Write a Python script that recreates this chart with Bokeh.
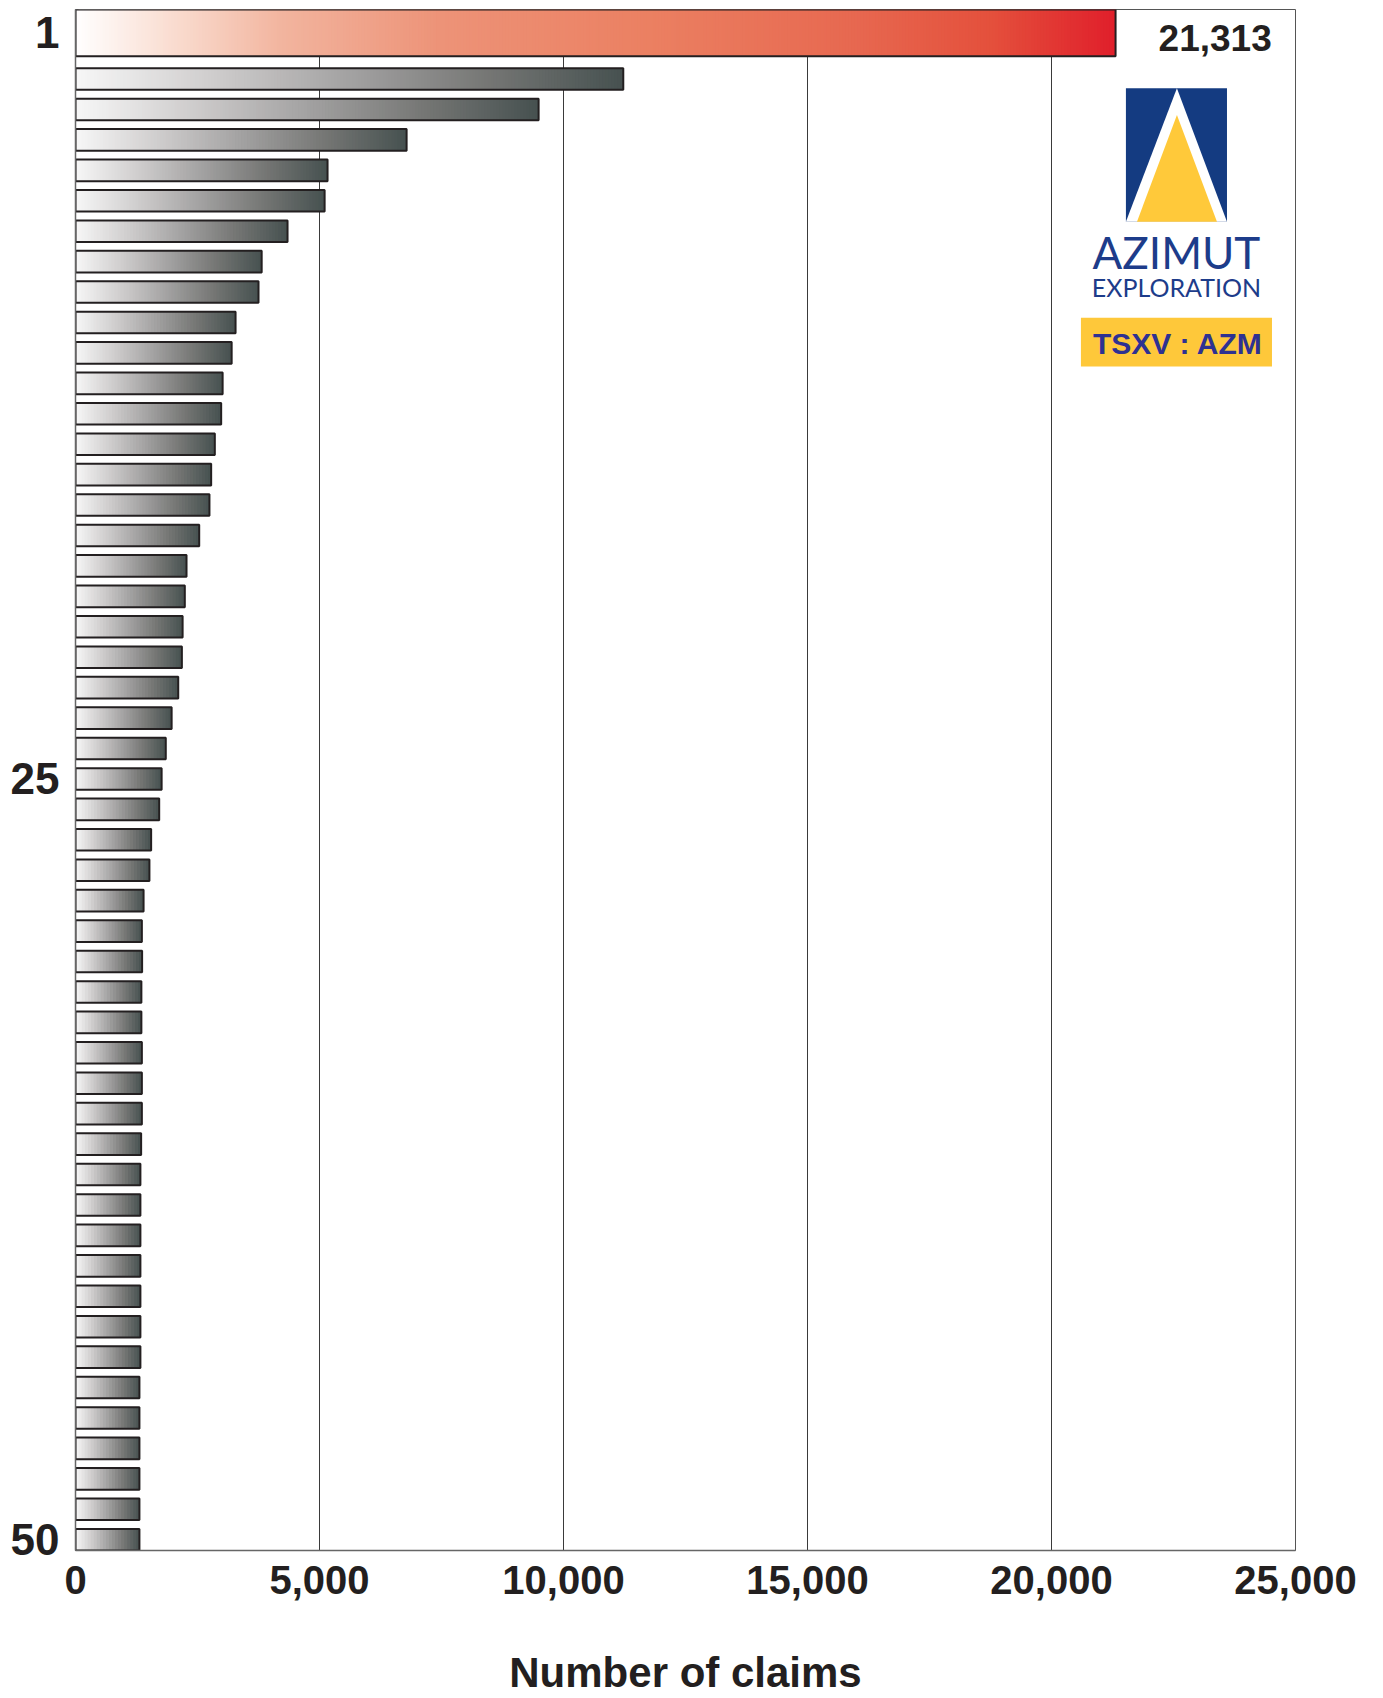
import numpy as np
from bokeh.plotting import figure
from bokeh.models import Range1d, FixedTicker
from bokeh.core.properties import value
from bokeh.embed import file_html
from bokeh.resources import INLINE

# ---------------- data ----------------
ranks = list(range(1, 51))
claims = [21313, 11225, 9490, 6785, 5165, 5105, 4345, 3815, 3750, 3280,
          3200, 3015, 2985, 2855, 2780, 2745, 2535, 2275, 2240, 2195,
          2180, 2105, 1970, 1850, 1765, 1715, 1550, 1515, 1395, 1360,
          1365, 1350, 1350, 1360, 1360, 1360, 1345, 1330, 1330, 1330,
          1330, 1330, 1330, 1330, 1310, 1310, 1310, 1310, 1310, 1310]
x_ticks = [0, 5000, 10000, 15000, 20000, 25000]
x_tick_labels = ["0", "5,000", "10,000", "15,000", "20,000", "25,000"]
y_tick_ranks = [1, 25, 50]
y_tick_labels = ["1", "25", "50"]
x_title = "Number of claims"
logo_name = "AZIMUT"
logo_sub = "EXPLORATION"
ticker_text = "TSXV : AZM"

# ---------------- style ----------------
BAR_H = 0.71          # height of ordinary bars (rank units)
TOP_GAP = 0.39        # gap below the leading bar
TOP_BAR_H = 1.54      # height of leading bar
GREY_STOPS = [(0.0, "#f7f7f7"), (0.25, "#cfcdcd"), (0.5, "#a3a2a2"),
              (0.75, "#767775"), (1.0, "#465150")]
RED_STOPS = [(0.0, "#ffffff"), (0.1, "#f9dacd"), (0.2, "#f2b49e"),
             (0.35, "#ed9378"), (0.55, "#eb8062"), (0.75, "#e76850"),
             (0.88, "#e4503c"), (1.0, "#e01f2b")]
INK = "#231f20"
FRAME_W = 1220


def hex2rgb(h):
    h = h.lstrip("#")
    return [int(h[i:i + 2], 16) for i in (0, 2, 4)]


def gradient(stops, n):
    pos = [s[0] for s in stops]
    rgb = np.array([hex2rgb(s[1]) for s in stops], dtype=float)
    t = (np.arange(n) + 0.5) / n
    cols = []
    for tt in t:
        r, g, b = (int(round(np.interp(tt, pos, rgb[:, c]))) for c in range(3))
        cols.append("#%02x%02x%02x" % (r, g, b))
    return cols


# bar geometry from rank
tops, bottoms, centers = [], [], []
for r in ranks:
    if r == 1:
        b = 2 - BAR_H / 2 - TOP_GAP
        t = b - TOP_BAR_H
    else:
        t = r - BAR_H / 2
        b = r + BAR_H / 2
    tops.append(t)
    bottoms.append(b)
    centers.append((t + b) / 2)

y_start = bottoms[-1]
y_end = tops[0]

p = figure(width=1375, height=1698, output_backend="svg", toolbar_location=None,
           x_range=Range1d(x_ticks[0], x_ticks[-1]), y_range=Range1d(y_start, y_end),
           min_border_left=75, min_border_right=80, min_border_top=9,
           min_border_bottom=136)
p.background_fill_color = "white"
p.border_fill_color = "white"
p.outline_line_color = "#555555"
p.outline_line_width = 1

# gradient bars as thin slices (about 3 px each)
px_per_unit = FRAME_W / (x_ticks[-1] - x_ticks[0])
sl_l, sl_r, sl_t, sl_b, sl_c = [], [], [], [], []
for i, v in enumerate(claims):
    n = max(8, int(v * px_per_unit / 3))
    cols = gradient(RED_STOPS if i == 0 else GREY_STOPS, n)
    for k in range(n):
        sl_l.append(v * k / n)
        sl_r.append(min(v, v * (k + 2) / n))
        sl_t.append(tops[i])
        sl_b.append(bottoms[i])
        sl_c.append(cols[k])
p.quad(left=sl_l, right=sl_r, top=sl_t, bottom=sl_b, fill_color=sl_c,
       line_color=None)
p.quad(left=[0] * len(claims), right=claims, top=tops, bottom=bottoms,
       fill_alpha=0, line_color=INK, line_width=2)

# value label for the leader
p.text(x=[claims[0]], y=[centers[0]], text=[f"{claims[0]:,}"], x_offset=43,
       y_offset=5, text_baseline="middle", text_align="left",
       text_font=value("Liberation Sans"), text_font_style="bold",
       text_font_size="37px", text_color=INK)

# ---------------- logo ----------------
blue, yellow = "#143b81", "#ffc93a"
p.quad(left=[21525], right=[23596], top=[2.30], bottom=[6.694],
       fill_color=blue, line_color=None)
p.patch(x=[22570, 21525, 23596], y=[2.30, 6.694, 6.694], fill_color="white",
        line_color=None)
p.patch(x=[22570, 21751, 23391], y=[3.185, 6.694, 6.694], fill_color=yellow,
        line_color=None)
p.text(x=[22560], y=[7.68], text=[logo_name], text_align="center",
       text_baseline="middle", text_font=value("Lato"),
       text_font_size="44px", text_color="#1d3c8a")
p.text(x=[22560], y=[8.82], text=[logo_sub], text_align="center",
       text_baseline="middle", text_font=value("Lato"),
       text_font_size="25px", text_color="#1d3c8a")
p.quad(left=[20603], right=[24518], top=[9.841], bottom=[11.448],
       fill_color="#fec83a", line_color=None)
p.text(x=[22590], y=[10.68], text=[ticker_text], text_align="center",
       text_baseline="middle", text_font=value("Liberation Sans"),
       text_font_style="bold", text_font_size="30px", text_color="#2e3192")

# ---------------- axes ----------------
p.xaxis.ticker = FixedTicker(ticks=x_ticks)
p.xaxis.major_label_overrides = dict(zip(x_ticks, x_tick_labels))
p.xaxis.major_label_text_font = "Liberation Sans"
p.xaxis.major_label_text_font_style = "bold"
p.xaxis.major_label_text_font_size = "40px"
p.xaxis.major_label_text_color = INK
p.xaxis.major_label_standoff = 15
p.xaxis.axis_label = x_title
p.xaxis.axis_label_text_font = "Liberation Sans"
p.xaxis.axis_label_text_font_style = "bold"
p.xaxis.axis_label_text_font_size = "42px"
p.xaxis.axis_label_text_color = INK
p.xaxis.axis_label_standoff = 52

ytick_pos = [centers[r - 1] for r in y_tick_ranks]
p.yaxis.ticker = FixedTicker(ticks=ytick_pos)
p.yaxis.major_label_overrides = dict(zip(ytick_pos, y_tick_labels))
p.yaxis.major_label_text_font = "Liberation Sans"
p.yaxis.major_label_text_font_style = "bold"
p.yaxis.major_label_text_font_size = "44px"
p.yaxis.major_label_text_color = INK
p.yaxis.major_label_standoff = 16

for ax in (p.xaxis, p.yaxis):
    ax.major_tick_out = 0
    ax.major_tick_in = 0
    ax.minor_tick_out = 0
    ax.minor_tick_in = 0
    ax.axis_line_color = "#666666"
    ax.axis_line_width = 1.5

p.xgrid.ticker = FixedTicker(ticks=x_ticks[1:-1])
p.xgrid.grid_line_color = "#3a3a3a"
p.xgrid.grid_line_width = 1
p.ygrid.grid_line_color = None

open("out.html", "w").write(file_html(p, INLINE))
